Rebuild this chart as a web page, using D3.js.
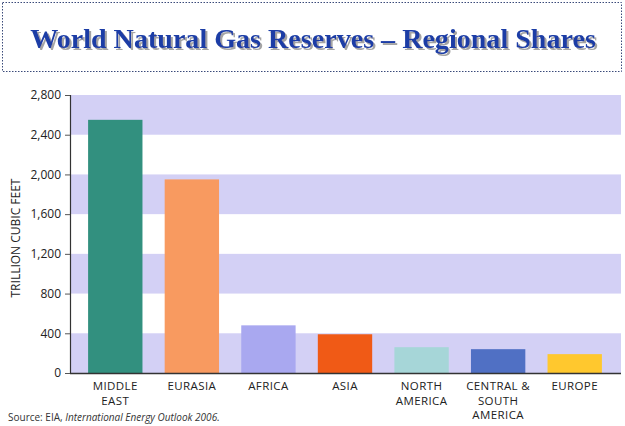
<!DOCTYPE html>
<html><head><meta charset="utf-8">
<script src="https://cdn.jsdelivr.net/npm/d3@7"></script>
<style>body{margin:0;background:#fff}svg{display:block}</style>
</head><body>
<svg id="chart" width="625" height="426"></svg>
<script>
const categories = [["MIDDLE","EAST"],["EURASIA"],["AFRICA"],["ASIA"],["NORTH","AMERICA"],["CENTRAL &","SOUTH","AMERICA"],["EUROPE"]];
const categoryKeys = ["Middle East","Eurasia","Africa","Asia","North America","Central & South America","Europe"];
const values = [2550, 1950, 480, 390, 260, 240, 190];
const barColors = ["#32907f","#f89a60","#a9a8f0","#f05a16","#a6d6d8","#5070c4","#ffc82e"];
const yTicks = [0,400,800,1200,1600,2000,2400,2800];
const bandRanges = [[0,400],[800,1200],[1600,2000],[2400,2800]];

const svg = d3.select("#chart");
const font = "'Open Sans', 'Noto Sans', sans-serif";

const defs = svg.append("defs");
const f = defs.append("filter").attr("id","shadow").attr("filterUnits","userSpaceOnUse")
  .attr("x",10).attr("y",8).attr("width",605).attr("height",60);
f.append("feDropShadow").attr("dx",2).attr("dy",2).attr("stdDeviation",0.6).attr("flood-color","#9a9a9a").attr("flood-opacity",0.9);

// title box
svg.append("rect").attr("x",2.5).attr("y",2.5).attr("width",619).attr("height",69)
  .attr("fill","#fff").attr("stroke","#3a4a7a").attr("stroke-width",1).attr("stroke-dasharray","1.5,1.5");
const title = svg.append("text").attr("x",313).attr("y",48).attr("text-anchor","middle")
  .attr("font-family","'Liberation Serif', serif").attr("font-weight","bold").attr("font-size",30)
  .attr("fill","#1c3ea6").attr("filter","url(#shadow)")
  .text("World Natural Gas Reserves \u2013 Regional Shares");
const natural = title.node().getComputedTextLength();
if (natural > 566) title.attr("font-size", 30 * 566 / natural);

const x0 = 70, x1 = 621, yTop = 95, yBot = 373;
const y = d3.scaleLinear().domain([0,2800]).range([yBot,yTop]);
const x = d3.scaleBand().domain(categoryKeys).range([77,613]).paddingInner(0.29).paddingOuter(0.145);

// bands
svg.append("g").selectAll("rect").data(bandRanges).join("rect")
  .attr("x",x0).attr("width",x1-x0)
  .attr("y",d=>y(d[1])).attr("height",d=>y(d[0])-y(d[1]))
  .attr("fill","#d3d0f5");

// bars
svg.append("g").selectAll("rect").data(values).join("rect")
  .attr("x",(d,i)=>x(categoryKeys[i])).attr("width",x.bandwidth())
  .attr("y",d=>y(d)).attr("height",d=>yBot-y(d))
  .attr("fill",(d,i)=>barColors[i]);

// y axis
const yAxis = svg.append("g").attr("transform",`translate(${x0},0)`)
  .call(d3.axisLeft(y).tickValues(yTicks).tickFormat(d3.format(",")).tickSize(5).tickPadding(4));
yAxis.select(".domain").attr("stroke","#333").attr("stroke-width",1.2);
yAxis.selectAll(".tick line").attr("stroke","#555");
yAxis.selectAll("text").attr("font-family",font).attr("font-size",12).attr("fill","#222");

// x axis line
svg.append("line").attr("x1",x0).attr("x2",x1).attr("y1",yBot+0.5).attr("y2",yBot+0.5)
  .attr("stroke","#333").attr("stroke-width",1.5);

// x labels
const xl = svg.append("g");
categories.forEach((lines,i)=>{
  const cx = x(categoryKeys[i]) + x.bandwidth()/2;
  const t = xl.append("text").attr("x",cx).attr("y",390).attr("text-anchor","middle")
    .attr("font-family",font).attr("font-size",11.5).attr("letter-spacing",0.4).attr("fill","#222");
  lines.forEach((l,j)=>t.append("tspan").attr("x",cx).attr("dy",j===0?0:14.5).text(l));
});

// y title
svg.append("text").attr("transform","translate(20,238) rotate(-90)").attr("text-anchor","middle")
  .attr("font-family",font).attr("font-size",12).attr("fill","#222").text("TRILLION CUBIC FEET");

// source
const src = svg.append("text").attr("x",8).attr("y",421).attr("font-family",font).attr("font-size",10).attr("fill","#333");
src.append("tspan").text("Source: EIA, ");
src.append("tspan").attr("font-style","italic").text("International Energy Outlook 2006.");
</script>
</body></html>
